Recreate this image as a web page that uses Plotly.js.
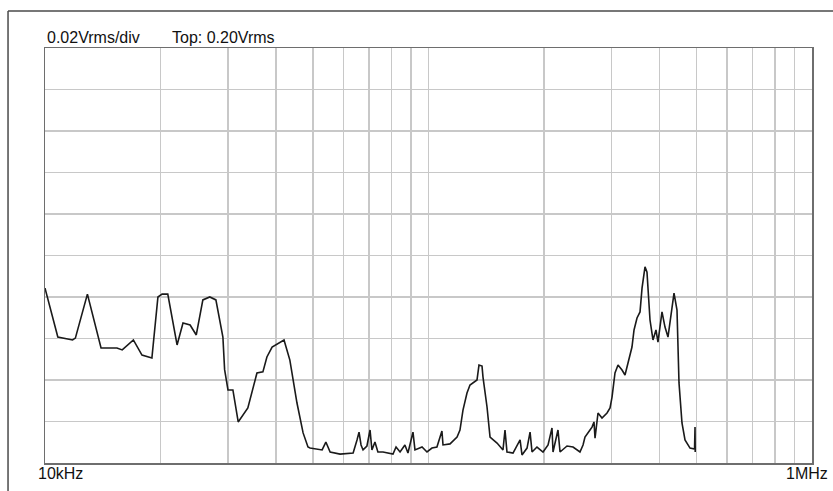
<!DOCTYPE html>
<html>
<head>
<meta charset="utf-8">
<script src="https://cdn.plot.ly/plotly-3.0.1.min.js"></script>
<style>
html, body { margin: 0; padding: 0; background: #ffffff; }
#chart { width: 833px; height: 491px; }
</style>
</head>
<body>
<div id="chart"></div>
<script>
// Frequency in kHz
const freqKHz = [
  10.0, 10.8, 11.8, 12.0, 12.9, 14.0, 15.4, 15.9, 17.0, 17.9, 19.0, 19.7, 20.2, 20.9, 22.1, 22.9, 23.9, 24.8, 25.8, 26.9, 27.9,
  29.1, 29.4, 30.0, 30.9, 31.9, 33.8, 35.7, 37.0, 37.9, 39.1, 40.3, 42.0, 43.5, 45.4, 47.1, 48.5,
  49.1, 52.8, 54.0, 55.4, 58.8, 63.6, 65.1, 65.9, 66.7, 67.5, 69.1, 70.4, 71.2, 72.5, 73.8, 76.1,
  80.8, 82.3, 84.3, 86.8, 88.4, 91.1, 92.2, 96.2, 99.1, 100.9, 102.1, 105.2, 108.4, 109.1, 113.8,
  118.7, 120.8, 123.0, 126.0, 128.3, 130.6, 133.8, 135.4, 137.9, 138.7, 142.1, 144.7, 150.9,
  156.4, 158.3, 160.2, 166.1, 173.3, 175.3, 180.7, 184.0, 186.2, 191.8, 198.9, 205.0, 209.9,
  211.2, 217.6, 220.3, 229.7, 238.2, 248.3, 252.9, 255.9, 260.6, 263.7, 266.9, 270.1, 271.8,
  276.7, 283.4, 292.1, 297.4, 301.0, 306.4, 312.0, 319.6, 325.4, 331.3, 339.3, 343.5, 349.7,
  356.1, 360.4, 366.9, 371.3, 378.1, 384.9, 391.9, 396.6, 406.3, 413.7, 421.2, 431.4, 436.7,
  444.6, 450.0, 458.1, 466.5, 480.8, 489.5, 494.0, 495.4, 496.0
];
// Level in Vrms
const levelVrms = [
  0.0843, 0.0607, 0.0593, 0.0602, 0.0814, 0.0554, 0.0554, 0.0545, 0.0593, 0.0520, 0.0506, 0.0800, 0.0814, 0.0814, 0.0569, 0.0675, 0.0665, 0.0617, 0.0786, 0.0800, 0.0786,
  0.0607, 0.0450, 0.0352, 0.0352, 0.0198, 0.0265, 0.0434, 0.0439, 0.0511, 0.0559, 0.0573, 0.0593, 0.0496, 0.0289, 0.0145, 0.0077,
  0.0072, 0.0063, 0.0101, 0.0053, 0.0043, 0.0048, 0.0111, 0.0149, 0.0087, 0.0063, 0.0082, 0.0159, 0.0063, 0.0101, 0.0053, 0.0053,
  0.0043, 0.0077, 0.0053, 0.0087, 0.0048, 0.0149, 0.0063, 0.0077, 0.0053, 0.0063, 0.0072, 0.0077, 0.0154, 0.0087, 0.0092,
  0.0125, 0.0159, 0.0255, 0.0337, 0.0376, 0.0386, 0.0400, 0.0472, 0.0467, 0.0414, 0.0270, 0.0125, 0.0096,
  0.0063, 0.0159, 0.0053, 0.0048, 0.0111, 0.0039, 0.0072, 0.0149, 0.0053, 0.0077, 0.0053, 0.0087, 0.0169,
  0.0053, 0.0159, 0.0053, 0.0082, 0.0077, 0.0053, 0.0087, 0.0125, 0.0149, 0.0159, 0.0173, 0.0198, 0.0120,
  0.0241, 0.0217, 0.0241, 0.0265, 0.0318, 0.0434, 0.0472, 0.0448, 0.0424, 0.0482, 0.0559, 0.0641, 0.0699,
  0.0728, 0.0843, 0.0945, 0.0920, 0.0689, 0.0593, 0.0641, 0.0583, 0.0728, 0.0655, 0.0607, 0.0752, 0.0819,
  0.0737, 0.0386, 0.0193, 0.0111, 0.0072, 0.0067, 0.0067, 0.0173, 0.0053
];
// Grid positions (kHz) and labels
const gridFreqKHz = [20, 30, 40, 50, 60, 70, 80, 90, 100, 200, 300, 400, 500, 600, 700, 800, 900];
const scaleLabel = "0.02Vrms/div";
const topLabel = "Top: 0.20Vrms";
const startLabel = "10kHz";
const endLabel = "1MHz";

const FONT = { family: "Liberation Sans, Arial, sans-serif", size: 16, color: "#111111" };

const trace = {
  x: freqKHz,
  y: levelVrms,
  type: "scatter",
  mode: "lines",
  line: { color: "#1a1a1a", width: 1.6 },
  hoverinfo: "skip"
};

const layout = {
  width: 833,
  height: 491,
  margin: { l: 45, r: 21, t: 48, b: 28, pad: 0 },
  paper_bgcolor: "#ffffff",
  plot_bgcolor: "#ffffff",
  showlegend: false,
  xaxis: {
    type: "log",
    range: [1, 3],
    tickmode: "array",
    tickvals: gridFreqKHz,
    showticklabels: false,
    ticks: "",
    showgrid: true,
    gridcolor: "#c8c8c8",
    gridwidth: 1.5,
    zeroline: false,
    showline: true,
    mirror: true,
    linecolor: "#6e6e6e",
    linewidth: 1.5,
    fixedrange: true
  },
  yaxis: {
    range: [0, 0.2],
    tickmode: "linear",
    tick0: 0,
    dtick: 0.02,
    showticklabels: false,
    ticks: "",
    showgrid: true,
    gridcolor: "#c8c8c8",
    gridwidth: 1.5,
    zeroline: false,
    showline: true,
    mirror: true,
    linecolor: "#6e6e6e",
    linewidth: 1.5,
    fixedrange: true
  },
  shapes: [
    { type: "line", xref: "paper", yref: "paper", x0: -0.0482, x1: 1.2, y0: 1.0892, y1: 1.0892,
      line: { color: "#4a4a4a", width: 1.5 } },
    { type: "line", xref: "paper", yref: "paper", x0: -0.0482, x1: -0.0482, y0: 1.0892, y1: -0.2,
      line: { color: "#4a4a4a", width: 1.5 } }
  ],
  annotations: [
    { text: scaleLabel, xref: "paper", yref: "paper", x: 0, y: 1.0265, xanchor: "left", yanchor: "middle",
      showarrow: false, font: FONT },
    { text: topLabel, xref: "paper", yref: "paper", x: 0.163, y: 1.0265, xanchor: "left", yanchor: "middle",
      showarrow: false, font: FONT },
    { text: startLabel, xref: "paper", yref: "paper", x: -0.0117, y: -0.0265, xanchor: "left", yanchor: "middle",
      showarrow: false, font: FONT },
    { text: endLabel, xref: "paper", yref: "paper", x: 1.0235, y: -0.0265, xanchor: "right", yanchor: "middle",
      showarrow: false, font: FONT }
  ]
};

Plotly.newPlot("chart", [trace], layout, { displayModeBar: false, staticPlot: true });
</script>
</body>
</html>
